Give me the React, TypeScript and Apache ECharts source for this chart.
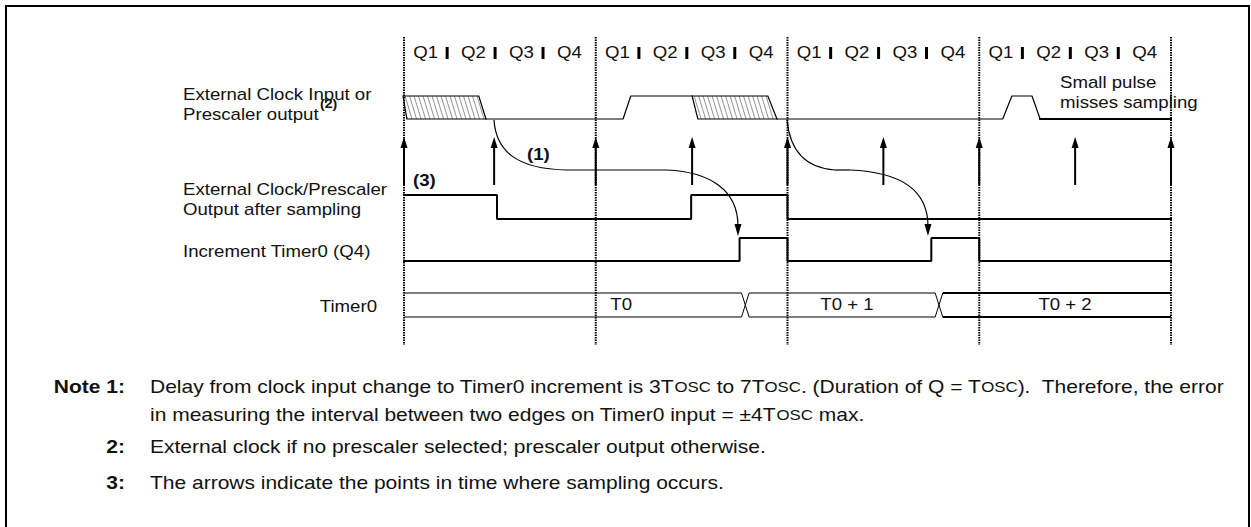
import React, { useEffect, useRef } from "react";
import * as echarts from "echarts";

// ---------------- data (time axis in Q periods, 4 Q = one instruction cycle) ----------------
const CYCLE_BOUNDS = [0, 4, 8, 12, 16];
const Q_NAMES = ["Q1", "Q2", "Q3", "Q4"];
const CYCLES = [0, 1, 2, 3];

// External clock input / prescaler output: [time, level]
const EXT_CLOCK_A = [[1.71, 0], [4.57, 0], [4.73, 1], [6.01, 1]];
const EXT_CLOCK_B = [[7.78, 0], [12.49, 0], [12.68, 1], [13.1, 1], [13.27, 0]];
const EXT_CLOCK_C = [[13.27, 0], [16, 0]];
// hatched (uncertain) regions: [topLeft, topRight, bottomRight, bottomLeft] times
const EXT_HATCH = [
  [-0.02, 1.56, 1.71, 0.06],
  [6.01, 7.59, 7.78, 6.13],
];
// sampling instants (arrows)
const SAMPLE_TIMES = [0, 1.88, 4, 6.01, 8, 10, 12, 14, 16];
// external clock / prescaler output after sampling
const SAMPLED_OUT = [[0, 1], [1.94, 1], [1.94, 0], [5.99, 0], [5.99, 1], [8, 1], [8, 0], [16, 0]];
// increment Timer0 (Q4)
const INCREMENT = [[0, 0], [7, 0], [7, 1], [8, 1], [8, 0], [11, 0], [11, 1], [12, 1], [12, 0], [16, 0]];
// Timer0 bus value changes
const BUS_CROSS = [7.12, 11.16];
const BUS_VALUES = ["T0", "T0 + 1", "T0 + 2"];
const BUS_LABEL_T = [4.53, 9.24, 13.79];
// delay curves "(1)": bezier points [time, vertical track units]
const DELAY_CURVES = [
  [[1.877, 120], [1.92, 150], [2.315, 169], [3.4, 170], [5.486, 170], [6.383, 172], [6.967, 190], [6.967, 226]],
  [[7.99, 120], [8.05, 150], [8.37, 168], [8.99, 170], [9.3, 170], [10.35, 172], [10.93, 190], [10.93, 226]],
];

// ---------------- layout (vertical track units == px) ----------------
const L = {
  extHi: 96, extLo: 119,
  arrowBase: 185, arrowTip: 137,
  sampHi: 195, sampLo: 219,
  incHi: 238, incLo: 261,
  busHi: 293, busLo: 317,
  qY: 53, qBarTop: 47, qBarBot: 59,
  dashTop: 37, dashBot: 345,
};
const Q_LABEL_OFFSET = 0.45;
const Q_BAR_OFFSET = 0.9;
const BUS_HALF = 0.079;
const BUS_WIDTHS = [1, 1, 2];

const FONT = '"Liberation Sans", Arial, Helvetica, sans-serif';
const SX = 1.18;
const FS = 15.8;
const NOTE_FS = 17.5;
const NOTE_SX = 1.2;

function textEl(x: number, y: number, text: string, o: any = {}) {
  const align = o.align || "left";
  return {
    type: "text",
    x,
    y,
    scaleX: o.sx || SX,
    silent: true,
    z: 20,
    style: {
      text,
      fontFamily: FONT,
      fontSize: o.size || FS,
      fontWeight: o.bold ? "bold" : "normal",
      fill: "#111",
      textAlign: align,
      align,
      textVerticalAlign: "middle",
      verticalAlign: "middle",
      rich: o.rich,
    },
  };
}

const SC = { sc: { fontFamily: FONT, fontSize: 14, fill: "#111" } };

function lvl(level: number, hi: number, lo: number) {
  return lo + (hi - lo) * level;
}

function lineSeries(points: number[][], hi: number, lo: number, width: number) {
  return {
    type: "line",
    data: points.map((p) => [p[0], lvl(p[1], hi, lo)]),
    symbol: "none",
    silent: true,
    z: 5,
    lineStyle: { color: "#000", width, cap: "square" },
  };
}

export default function App() {
  const ref = useRef<HTMLDivElement>(null);

  useEffect(() => {
    document.body.style.margin = "0";
    if (!ref.current) return;
    const chart = echarts.init(ref.current, null, { renderer: "svg" });

    const series: any[] = [];

    // cycle boundaries (dotted)
    CYCLE_BOUNDS.forEach((b) => {
      series.push({
        type: "line",
        data: [[b, L.dashTop], [b, L.dashBot]],
        symbol: "none",
        silent: true,
        z: 2,
        lineStyle: { color: "#000", width: 2, type: [1.5, 1] },
      });
    });

    // external clock
    series.push(lineSeries(EXT_CLOCK_A, L.extHi, L.extLo, 1.2));
    series.push(lineSeries(EXT_CLOCK_B, L.extHi, L.extLo, 1.2));
    series.push(lineSeries(EXT_CLOCK_C, L.extHi, L.extLo, 2));

    // hatched regions
    series.push({
      type: "custom",
      data: EXT_HATCH.map((h, i) => [h[0], i]),
      silent: true,
      z: 6,
      renderItem: (params: any, api: any) => {
        const h = EXT_HATCH[params.dataIndex];
        const tl = api.coord([h[0], L.extHi]);
        const tr = api.coord([h[1], L.extHi]);
        const br = api.coord([h[2], L.extLo]);
        const bl = api.coord([h[3], L.extLo]);
        const H = bl[1] - tl[1];
        const dx = 7;
        const step = 4.5;
        const children: any[] = [];
        for (let x0 = Math.min(tl[0], bl[0]) - dx; x0 <= Math.max(tr[0], br[0]); x0 += step) {
          let t0 = 0;
          let t1 = 1;
          const cons = [
            [x0 - tl[0], dx - (bl[0] - tl[0])],
            [tr[0] - x0, br[0] - tr[0] - dx],
          ];
          for (const [a, b] of cons) {
            if (Math.abs(b) < 1e-9) {
              if (a < 0) { t0 = 1; t1 = 0; }
            } else if (b > 0) t0 = Math.max(t0, -a / b);
            else t1 = Math.min(t1, -a / b);
          }
          if (t1 > t0) {
            children.push({
              type: "line",
              shape: { x1: x0 + dx * t0, y1: tl[1] + H * t0, x2: x0 + dx * t1, y2: tl[1] + H * t1 },
              style: { stroke: "#666", lineWidth: 0.7 },
            });
          }
        }
        children.push({
          type: "polygon",
          shape: { points: [tl, tr, br, bl] },
          style: { fill: "none", stroke: "#000", lineWidth: 1.2 },
        });
        return { type: "group", children };
      },
    });

    // sampling arrows
    series.push({
      type: "custom",
      data: SAMPLE_TIMES.map((t) => [t, L.arrowBase]),
      silent: true,
      z: 7,
      renderItem: (params: any, api: any) => {
        const t = SAMPLE_TIMES[params.dataIndex];
        const base = api.coord([t, L.arrowBase]);
        const tip = api.coord([t, L.arrowTip]);
        return {
          type: "group",
          children: [
            { type: "line", shape: { x1: base[0], y1: base[1], x2: tip[0], y2: tip[1] + 8 }, style: { stroke: "#000", lineWidth: 2 } },
            { type: "polygon", shape: { points: [[tip[0] - 3.5, tip[1] + 11], [tip[0] + 3.5, tip[1] + 11], [tip[0], tip[1]]] }, style: { fill: "#000" } },
          ],
        };
      },
    });

    // sampled output & increment
    series.push(lineSeries(SAMPLED_OUT, L.sampHi, L.sampLo, 2));
    series.push(lineSeries(INCREMENT, L.incHi, L.incLo, 2));

    // Timer0 bus
    const busEdges = [CYCLE_BOUNDS[0], ...BUS_CROSS, CYCLE_BOUNDS[CYCLE_BOUNDS.length - 1]];
    series.push({
      type: "custom",
      data: BUS_VALUES.map((v, i) => [BUS_LABEL_T[i], i]),
      silent: true,
      z: 6,
      renderItem: (params: any, api: any) => {
        const i = params.dataIndex;
        const last = BUS_VALUES.length - 1;
        const s = i === 0 ? busEdges[0] : busEdges[i] + BUS_HALF;
        const e = i === last ? busEdges[i + 1] : busEdges[i + 1] - BUS_HALF;
        const w = BUS_WIDTHS[i];
        const a1 = api.coord([s, L.busHi]);
        const a2 = api.coord([e, L.busHi]);
        const b1 = api.coord([s, L.busLo]);
        const b2 = api.coord([e, L.busLo]);
        const children: any[] = [
          { type: "line", shape: { x1: a1[0], y1: a1[1], x2: a2[0], y2: a2[1] }, style: { stroke: "#000", lineWidth: w } },
          { type: "line", shape: { x1: b1[0], y1: b1[1], x2: b2[0], y2: b2[1] }, style: { stroke: "#000", lineWidth: w } },
        ];
        if (i < last) {
          const c1 = api.coord([busEdges[i + 1] - BUS_HALF, L.busHi]);
          const c2 = api.coord([busEdges[i + 1] + BUS_HALF, L.busLo]);
          children.push({ type: "line", shape: { x1: c1[0], y1: c1[1], x2: c2[0], y2: c2[1] }, style: { stroke: "#000", lineWidth: 1 } });
          children.push({ type: "line", shape: { x1: c1[0], y1: c2[1], x2: c2[0], y2: c1[1] }, style: { stroke: "#000", lineWidth: 1 } });
        }
        const lp = api.coord([BUS_LABEL_T[i], (L.busHi + L.busLo) / 2]);
        children.push(textEl(lp[0], lp[1], BUS_VALUES[i], { align: "center" }));
        return { type: "group", children };
      },
    });

    // delay curves
    series.push({
      type: "custom",
      data: DELAY_CURVES.map((c) => [c[0][0], c[0][1]]),
      silent: true,
      z: 8,
      renderItem: (params: any, api: any) => {
        const p = DELAY_CURVES[params.dataIndex].map((q) => api.coord(q));
        const tEnd = DELAY_CURVES[params.dataIndex][7][0];
        const tip = api.coord([tEnd, L.incHi - 2]);
        const st = { stroke: "#000", lineWidth: 1.2, fill: "none" };
        return {
          type: "group",
          children: [
            { type: "bezierCurve", shape: { x1: p[0][0], y1: p[0][1], cpx1: p[1][0], cpy1: p[1][1], cpx2: p[2][0], cpy2: p[2][1], x2: p[3][0], y2: p[3][1] }, style: st },
            { type: "line", shape: { x1: p[3][0], y1: p[3][1], x2: p[4][0], y2: p[4][1] }, style: st },
            { type: "bezierCurve", shape: { x1: p[4][0], y1: p[4][1], cpx1: p[5][0], cpy1: p[5][1], cpx2: p[6][0], cpy2: p[6][1], x2: p[7][0], y2: p[7][1] }, style: st },
            { type: "polygon", shape: { points: [[tip[0] - 3.5, tip[1] - 12], [tip[0] + 3.5, tip[1] - 12], [tip[0], tip[1]]] }, style: { fill: "#000" } },
          ],
        };
      },
    });

    // Q labels and separators
    const qData: number[][] = [];
    CYCLES.forEach((c) => Q_NAMES.forEach((n, q) => qData.push([CYCLE_BOUNDS[c] + q + Q_LABEL_OFFSET, q])));
    series.push({
      type: "custom",
      data: qData,
      silent: true,
      z: 9,
      renderItem: (params: any, api: any) => {
        const d = qData[params.dataIndex];
        const p = api.coord([d[0], L.qY]);
        const children: any[] = [textEl(p[0], p[1], Q_NAMES[d[1]], { align: "center" })];
        if (d[1] < Q_NAMES.length - 1) {
          const bx = api.coord([d[0] - Q_LABEL_OFFSET + Q_BAR_OFFSET, L.qBarTop]);
          const by = api.coord([d[0] - Q_LABEL_OFFSET + Q_BAR_OFFSET, L.qBarBot]);
          children.push({ type: "line", shape: { x1: bx[0], y1: bx[1], x2: by[0], y2: by[1] }, style: { stroke: "#000", lineWidth: 3 } });
        }
        return { type: "group", children };
      },
    });

    const note = { size: NOTE_FS, sx: NOTE_SX };
    const noteB = { size: NOTE_FS, sx: NOTE_SX, bold: true, align: "right" };
    const graphic: any[] = [
      { type: "rect", shape: { x: 6, y: 6, width: 1243, height: 560 }, style: { fill: "none", stroke: "#000", lineWidth: 2 }, silent: true, z: 1 },
      textEl(183, 95, "External Clock Input or"),
      textEl(183, 115, "Prescaler output"),
      textEl(320, 104, "(2)", { bold: true, size: 12 }),
      textEl(183, 190, "External Clock/Prescaler"),
      textEl(183, 210, "Output after sampling"),
      textEl(183, 252, "Increment Timer0 (Q4)"),
      textEl(377, 307, "Timer0", { align: "right" }),
      textEl(413, 181, "(3)", { bold: true }),
      textEl(527, 155, "(1)", { bold: true }),
      textEl(1060, 83, "Small pulse"),
      textEl(1060, 103, "misses sampling"),
      textEl(125, 387, "Note 1:", noteB),
      textEl(150, 387, "Delay from clock input change to Timer0 increment is 3T{sc|OSC} to 7T{sc|OSC}. (Duration of Q = T{sc|OSC}).  Therefore, the error", { ...note, rich: SC }),
      textEl(150, 415, "in measuring the interval between two edges on Timer0 input = ±4T{sc|OSC} max.", { ...note, rich: SC }),
      textEl(125, 447, "2:", noteB),
      textEl(150, 447, "External clock if no prescaler selected; prescaler output otherwise.", note),
      textEl(125, 483, "3:", noteB),
      textEl(150, 483, "The arrows indicate the points in time where sampling occurs.", note),
    ];

    chart.setOption({
      animation: false,
      backgroundColor: "#fff",
      grid: { left: 404, right: 80, top: 0, bottom: 0 },
      xAxis: { type: "value", min: 0, max: 16, show: false },
      yAxis: { type: "value", min: 0, max: 527, inverse: true, show: false },
      tooltip: { show: false },
      series,
      graphic,
    });

    return () => chart.dispose();
  }, []);

  return <div ref={ref} style={{ width: 1251, height: 527, background: "#fff" }} />;
}
